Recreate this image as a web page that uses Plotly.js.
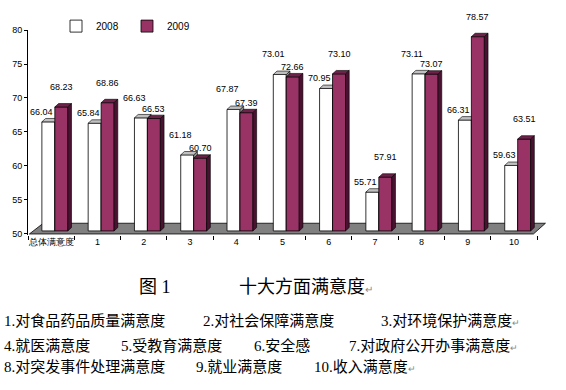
<!DOCTYPE html>
<html><head><meta charset="utf-8">
<script src="https://cdn.plot.ly/plotly-3.0.1.min.js"></script>
<style>html,body{margin:0;padding:0;background:#fff}#chart{width:566px;height:390px}</style>
</head><body><div id="chart"></div>
<script>
// ---- data ----
const categories = ['总体满意度','1','2','3','4','5','6','7','8','9','10'];
const series2008 = [66.04, 65.84, 66.63, 61.18, 67.87, 73.01, 70.95, 55.71, 73.11, 66.31, 59.63];
const series2009 = [68.23, 68.86, 66.53, 60.70, 67.39, 72.66, 73.10, 57.91, 73.07, 78.57, 63.51];
const seriesNames = ['2008', '2009'];
const yTicks = [50, 55, 60, 65, 70, 75, 80];
const captionFig = '图 1';
const captionTitle = '十大方面满意度';
const notes = [
  ['1.对食品药品质量满意度', '2.对社会保障满意度', '3.对环境保护满意度↵'],
  ['4.就医满意度', '5.受教育满意度', '6.安全感', '7.对政府公开办事满意度↵'],
  ['8.对突发事件处理满意度', '9.就业满意度', '10.收入满意度↵']
];

// ---- style / geometry ----
const W = 566, H = 390, ML = 28, MR = 15, MT = 25, MB = 155;
const plotW = W - ML - MR, plotH = H - MT - MB;
const xRange = [-0.5, 10.8], yRange = [49.85, 80];
const BAR_W = 0.28, OFF08 = -0.20, OFF09 = 0.08;
const LIFT = 0.45, DX = 0.08, DY = 0.5;
const C09 = '#993366', C09TOP = '#6e2149', C09SIDE = '#4a1230';
const C08 = '#ffffff', C08TOP = '#c0c0c0', C08SIDE = '#8c8c8c';
const numFont = {family: 'Liberation Sans, Arial, sans-serif', size: 9, color: '#000'};
const cjk = 'Liberation Serif, "Noto Sans CJK SC", serif';
const px = (x) => (x - ML) / plotW;
const py = (y) => (MT + plotH - y) / plotH;

const idx = categories.map((_, i) => i);

function polys(vals, off, kind) {
  const xs = [], ys = [];
  vals.forEach((v, i) => {
    const x0 = i + off, x1 = x0 + BAR_W, t = v + LIFT, b = 50 + LIFT;
    if (kind === 'top') {
      xs.push(x0, x1, x1 + DX, x0 + DX, x0, null);
      ys.push(t, t, t + DY, t + DY, t, null);
    } else {
      xs.push(x1, x1, x1 + DX, x1 + DX, x1, null);
      ys.push(b, t, t + DY, b + DY, b, null);
    }
  });
  return {xs, ys};
}
const f08side = polys(series2008, OFF08, 'side');
const f08top = polys(series2008, OFF08, 'top');
const f09top = polys(series2009, OFF09, 'top');
const f09side = polys(series2009, OFF09, 'side');

function face(f, color, ax) {
  return {type: 'scatter', mode: 'lines', x: f.xs, y: f.ys, fill: 'toself', fillcolor: color,
    line: {color: '#000', width: 0.6}, showlegend: false, hoverinfo: 'skip', xaxis: ax[0], yaxis: ax[1]};
}

const traces = [
  {type: 'bar', name: seriesNames[0], x: idx, y: series2008.map(v => v - 50), base: 50 + LIFT,
   offset: OFF08, width: BAR_W, marker: {color: C08, line: {color: '#000', width: 0.8}},
   xaxis: 'x', yaxis: 'y', hoverinfo: 'skip'},
  face(f08side, C08SIDE, ['x', 'y']),
  face(f08top, C08TOP, ['x', 'y']),
  {type: 'bar', name: seriesNames[1], x: idx, y: series2009.map(v => v - 50), base: 50 + LIFT,
   offset: OFF09, width: BAR_W, marker: {color: C09, line: {color: '#000', width: 0.8}},
   xaxis: 'x2', yaxis: 'y2', hoverinfo: 'skip'},
  face(f09top, C09TOP, ['x2', 'y2']),
  face(f09side, C09SIDE, ['x2', 'y2'])
];

const annotations = [];
const HI = 20, LO = 10;
series2008.forEach((v, i) => annotations.push({xref: 'x', yref: 'y', x: i - 0.2, y: v + LIFT,
  yshift: v >= series2009[i] ? HI : LO, text: v.toFixed(2), showarrow: false, font: numFont,
  xanchor: 'center', yanchor: 'middle'}));
series2009.forEach((v, i) => annotations.push({xref: 'x', yref: 'y', x: i + 0.22, y: v + LIFT,
  yshift: v > series2008[i] ? HI : LO, text: v.toFixed(2), showarrow: false, font: numFont,
  xanchor: 'center', yanchor: 'middle'}));

// caption
annotations.push({xref: 'paper', yref: 'paper', x: px(155), y: py(288), text: captionFig, showarrow: false,
  font: {family: cjk, size: 18, color: '#000'}, xanchor: 'center', yanchor: 'middle'});
annotations.push({xref: 'paper', yref: 'paper', x: px(237), y: py(288),
  text: captionTitle + '<span style="font-size:10px;color:#888">↵</span>', showarrow: false,
  font: {family: cjk, size: 18, color: '#000'}, xanchor: 'left', yanchor: 'middle'});

const noteX = [[2, 201, 379], [2, 119, 252, 347], [2, 194, 312]];
const noteY = [323, 348, 370];
notes.forEach((row, r) => row.forEach((t, c) => {
  const arrow = t.endsWith('↵');
  const txt = arrow ? t.slice(0, -1) + '<span style="font-size:9px;color:#888">↵</span>' : t;
  annotations.push({xref: 'paper', yref: 'paper', x: px(noteX[r][c]), y: py(noteY[r]), text: txt,
    showarrow: false, font: {family: cjk, size: 15, color: '#000'}, xanchor: 'left', yanchor: 'middle'});
}));

const floorPath = `M-0.47,50 L10.42,50 L10.68,51.58 L-0.17,51.58 Z`;

const layout = {
  width: W, height: H, margin: {l: ML, r: MR, t: MT, b: MB},
  paper_bgcolor: '#fff', plot_bgcolor: '#fff',
  barmode: 'overlay', showlegend: true,
  legend: {orientation: 'h', x: px(56), xanchor: 'left', y: py(21), yanchor: 'middle',
    font: {family: 'Liberation Sans, Arial, sans-serif', size: 10, color: '#000'},
    itemwidth: 30, entrywidth: 26, bgcolor: 'rgba(0,0,0,0)', tracegroupgap: 0},
  xaxis: {range: xRange, tickvals: idx, ticktext: categories, ticks: '', showline: false,
    showgrid: false, zeroline: false, tickfont: numFont, fixedrange: true},
  xaxis2: {range: xRange, overlaying: 'x', anchor: 'y', side: 'bottom',
    tickvals: [-0.5,0.5,1.5,2.5,3.5,4.5,5.5,6.5,7.5,8.5,9.5,10.5], ticks: 'outside', ticklen: 4,
    tickcolor: '#000', showticklabels: false, showline: false, showgrid: false, zeroline: false, fixedrange: true},
  yaxis: {range: yRange, tickvals: yTicks, ticks: 'outside', ticklen: 3, tickcolor: '#000',
    showline: true, linecolor: '#000', linewidth: 1, showgrid: false, zeroline: false,
    tickfont: numFont, fixedrange: true},
  yaxis2: {range: yRange, overlaying: 'y', visible: false, fixedrange: true},
  shapes: [{type: 'path', xref: 'x', yref: 'y', path: floorPath, fillcolor: '#808080',
    line: {color: '#000', width: 0.8}, layer: 'below'}],
  annotations: annotations
};

Plotly.newPlot('chart', traces, layout, {staticPlot: true, displayModeBar: false});
</script>
</body></html>
